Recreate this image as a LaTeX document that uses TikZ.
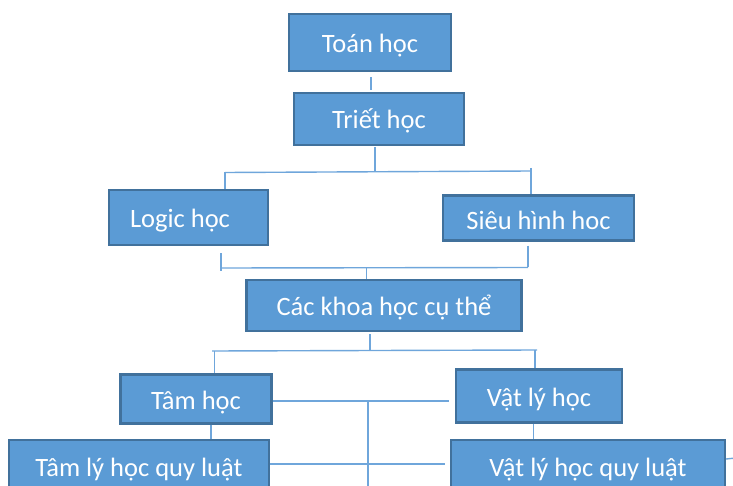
\documentclass[tikz,border=0pt]{standalone}
\usepackage{fontspec}
\setmainfont{Carlito}
\definecolor{boxfill}{HTML}{5B9BD5}
\definecolor{boxline}{HTML}{41719C}
\definecolor{linkblue}{HTML}{6FA6DB}
\begin{document}
\begin{tikzpicture}[x=1pt,y=-1pt,
    box/.style={rectangle,draw=boxline,fill=boxfill,line width=2.2pt,text=white,
        font=\fontsize{26.5}{30}\selectfont,text height=21pt,text depth=1pt,inner sep=0pt},
    link/.style={draw=linkblue,line width=1.4pt}]
                    \useasboundingbox (0,0) rectangle (733,486);
                    \clip (0,0) rectangle (733,486);
                    \node[box,minimum width=162pt,minimum height=57pt] (toan) at (370,42.5) {Toán học};
                    \node[box,minimum width=170pt,minimum height=52pt] (triet) at (379,119) {Triết học};
                    \node[box,minimum width=159pt,minimum height=55pt] (logic) at (188.5,217.5) {\hspace*{-17pt}Logic học};
                    \node[box,minimum width=191pt,minimum height=45pt,text height=25pt] (sieu) at (538.5,218) {Siêu hình hoc};
                    \node[box,minimum width=275pt,minimum height=51pt] (cackhoa) at (384,305.5) {Các khoa học cụ thể};
                    \node[box,minimum width=151pt,minimum height=49pt] (tam) at (196,399) {Tâm học};
                    \node[box,minimum width=166pt,minimum height=53pt] (vatly) at (539,396) {Vật lý học};
                    \node[box,minimum width=260pt,minimum height=52pt] (tamly) at (139,466) {Tâm lý học quy luật};
                    \node[box,minimum width=274pt,minimum height=52pt] (vatlyql) at (588,466) {Vật lý học quy luật};
                    % forks between the rows
                    \coordinate (forkA) at (375,171);
                    \coordinate (forkAl) at (225,172.5);
                    \coordinate (forkAr) at (531,171);
                    \coordinate (forkB) at (366.5,268);
                    \coordinate (forkBl) at (221,268);
                    \coordinate (forkBr) at (528,267.5);
                    \coordinate (forkC) at (370,351);
                    \coordinate (forkCl) at (212,351);
                    \coordinate (forkCr) at (537,350);
                    \coordinate (row1) at (368,401);
                    \coordinate (row2) at (0,464);
                    \coordinate (downend) at (368,495);
                    \coordinate (stubend) at (745,457);
                    \draw[link] ([xshift=1pt,yshift=-5pt]toan.south) -- ([xshift=-8pt,yshift=2pt]triet.north);
                    \draw[link] ([xshift=-4pt,yshift=-1pt]triet.south) -- (forkA);
                    \draw[link] (forkAl) -- (forkAr);
                    \draw[link] (forkAl) -- (forkAl |- logic.north);
                    \draw[link] ([yshift=3pt]forkAr) -- (forkAr |- sieu.north);
                    \draw[link] ([yshift=-7pt]logic.south -| forkBl) -- ([yshift=-3pt]forkBl);
                    \draw[link] (forkBl) -- (forkBr);
                    \draw[link] ([yshift=-4pt]sieu.south -| forkBr) -- (forkBr);
                    \draw[link] (forkB) -- (forkB |- cackhoa.north);
                    \draw[link] ([xshift=-14pt,yshift=-2pt]cackhoa.south) -- (forkC);
                    \draw[link] (forkCl) -- (forkCr);
                    \draw[link] ([xshift=2.5pt]forkCl) -- ([xshift=2.5pt]forkCl |- tam.north);
                    \draw[link] ([xshift=-2pt]forkCr) -- ([xshift=-2pt]forkCr |- vatly.north);
                    \draw[link] (row1 -| tam.east) -- ([xshift=-6pt]row1 -| vatly.west);
                    \draw[link] (row1) -- (downend);
                    \draw[link] ([xshift=15pt]tam.south) -- ([xshift=15pt]tam.south |- tamly.north);
                    \draw[link] ([xshift=-5.5pt]vatly.south) -- ([xshift=-5.5pt]vatly.south |- vatlyql.north);
                    \draw[link] (row2 -| tamly.east) -- ([xshift=-5pt]row2 -| vatlyql.west);
                    \draw[link] ([yshift=7pt]vatlyql.east) -- (stubend);
                \end{tikzpicture}
\end{document}
